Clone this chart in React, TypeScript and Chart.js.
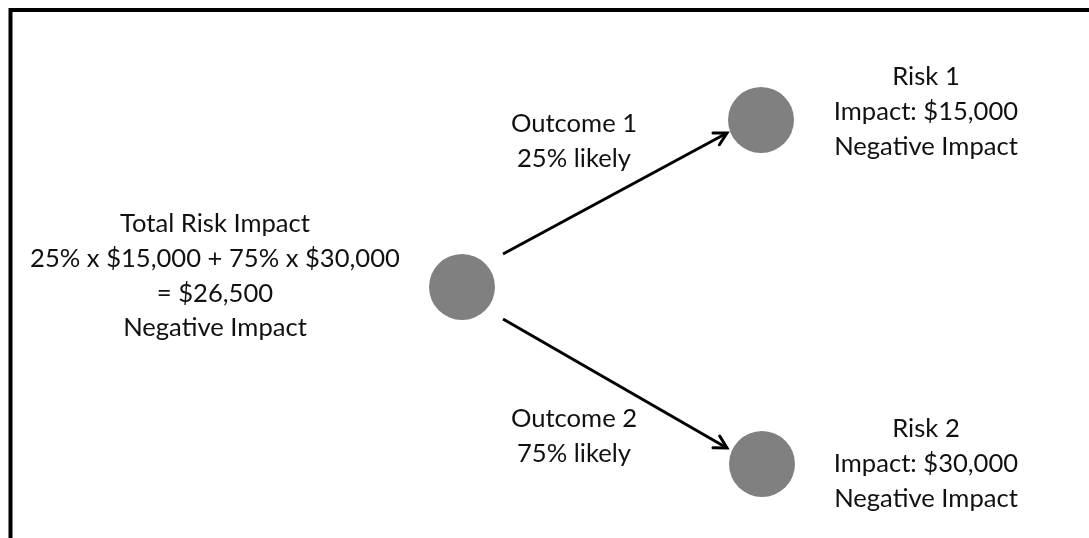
import React, { useEffect, useRef } from "react";
import { Chart, registerables } from "chart.js";
Chart.register(...registerables);

const W = 1089;
const H = 538;

// Decision nodes (diagram coordinates)
const nodeX = [462, 761, 762];
const nodeY = [287, 120, 464];

// Branch arrows
const arrowStartX = [503, 503];
const arrowStartY = [254, 319];
const arrowEndX = [727, 727];
const arrowEndY = [133, 448];

// Text blocks
const rootLabel = ["Total Risk Impact", "25% x $15,000 + 75% x $30,000", "= $26,500", "Negative Impact"];
const outcome1Label = ["Outcome 1", "25% likely"];
const outcome2Label = ["Outcome 2", "75% likely"];
const risk1Label = ["Risk 1", "Impact: $15,000", "Negative Impact"];
const risk2Label = ["Risk 2", "Impact: $30,000", "Negative Impact"];

const labelBlocks = [
  { lines: rootLabel, x: 215, y: 232 },
  { lines: outcome1Label, x: 574, y: 132 },
  { lines: outcome2Label, x: 574, y: 427 },
  { lines: risk1Label, x: 926, y: 85 },
  { lines: risk2Label, x: 926, y: 437 },
];
const lineGap = 34.8;
const FONT = '25.6px Lato, "Open Sans", sans-serif';

export default function App() {
  const ref = useRef<HTMLCanvasElement | null>(null);
  useEffect(() => {
    document.body.style.margin = "0";
    const canvas = ref.current;
    if (!canvas) return;

    const framePlugin = {
      id: "frame",
      beforeDraw(chart: any) {
        const ctx = chart.ctx;
        ctx.save();
        ctx.fillStyle = "#ffffff";
        ctx.fillRect(0, 0, W, H);
        ctx.strokeStyle = "#000000";
        ctx.lineWidth = 4;
        ctx.strokeRect(10.5, 10, 1300, 1000);
        ctx.restore();
      },
    };

    const arrowPlugin = {
      id: "arrowheads",
      afterDatasetsDraw(chart: any) {
        const ctx = chart.ctx;
        const xs = chart.scales.x;
        const ys = chart.scales.y;
        ctx.save();
        ctx.strokeStyle = "#000000";
        ctx.lineWidth = 3;
        ctx.lineCap = "round";
        ctx.lineJoin = "miter";
        for (let i = 0; i < arrowEndX.length; i++) {
          const x0 = xs.getPixelForValue(arrowStartX[i]);
          const y0 = ys.getPixelForValue(arrowStartY[i]);
          const x1 = xs.getPixelForValue(arrowEndX[i]);
          const y1 = ys.getPixelForValue(arrowEndY[i]);
          const a = Math.atan2(y1 - y0, x1 - x0);
          const len = 14;
          const spread = 0.5;
          ctx.beginPath();
          ctx.moveTo(x1 - len * Math.cos(a - spread), y1 - len * Math.sin(a - spread));
          ctx.lineTo(x1, y1);
          ctx.lineTo(x1 - len * Math.cos(a + spread), y1 - len * Math.sin(a + spread));
          ctx.stroke();
        }
        ctx.restore();
      },
    };

    const textPlugin = {
      id: "labels",
      afterDraw(chart: any) {
        const ctx = chart.ctx;
        const xs = chart.scales.x;
        const ys = chart.scales.y;
        ctx.save();
        ctx.fillStyle = "#111111";
        ctx.font = FONT;
        ctx.textAlign = "center";
        ctx.textBaseline = "alphabetic";
        for (const b of labelBlocks) {
          b.lines.forEach((t, i) => {
            ctx.fillText(t, xs.getPixelForValue(b.x), ys.getPixelForValue(b.y + i * lineGap));
          });
        }
        ctx.restore();
      },
    };

    const arrowDatasets = arrowStartX.map((_, i) => ({
      type: "line" as const,
      data: [
        { x: arrowStartX[i], y: arrowStartY[i] },
        { x: arrowEndX[i], y: arrowEndY[i] },
      ],
      borderColor: "#000000",
      borderWidth: 3,
      pointRadius: 0,
      showLine: true,
      fill: false,
      clip: false,
    }));

    const chart = new Chart(canvas, {
      type: "scatter",
      data: {
        datasets: [
          ...arrowDatasets,
          {
            type: "scatter" as const,
            data: nodeX.map((x, i) => ({ x, y: nodeY[i] })),
            pointRadius: 33,
            pointHoverRadius: 33,
            backgroundColor: "#808080",
            borderColor: "#808080",
            borderWidth: 0,
            clip: false,
          },
        ] as any,
      },
      options: {
        animation: false,
        responsive: false,
        layout: { padding: 0, autoPadding: false },
        plugins: { legend: { display: false }, tooltip: { enabled: false } },
        scales: {
          x: { type: "linear", min: 0, max: W, display: false },
          y: { type: "linear", min: 0, max: H, reverse: true, display: false },
        },
      },
      plugins: [framePlugin, arrowPlugin, textPlugin],
    });
    return () => chart.destroy();
  }, []);

  return (
    <div style={{ width: W, height: H }}>
      <canvas ref={ref} width={W} height={H} style={{ display: "block" }} />
    </div>
  );
}
